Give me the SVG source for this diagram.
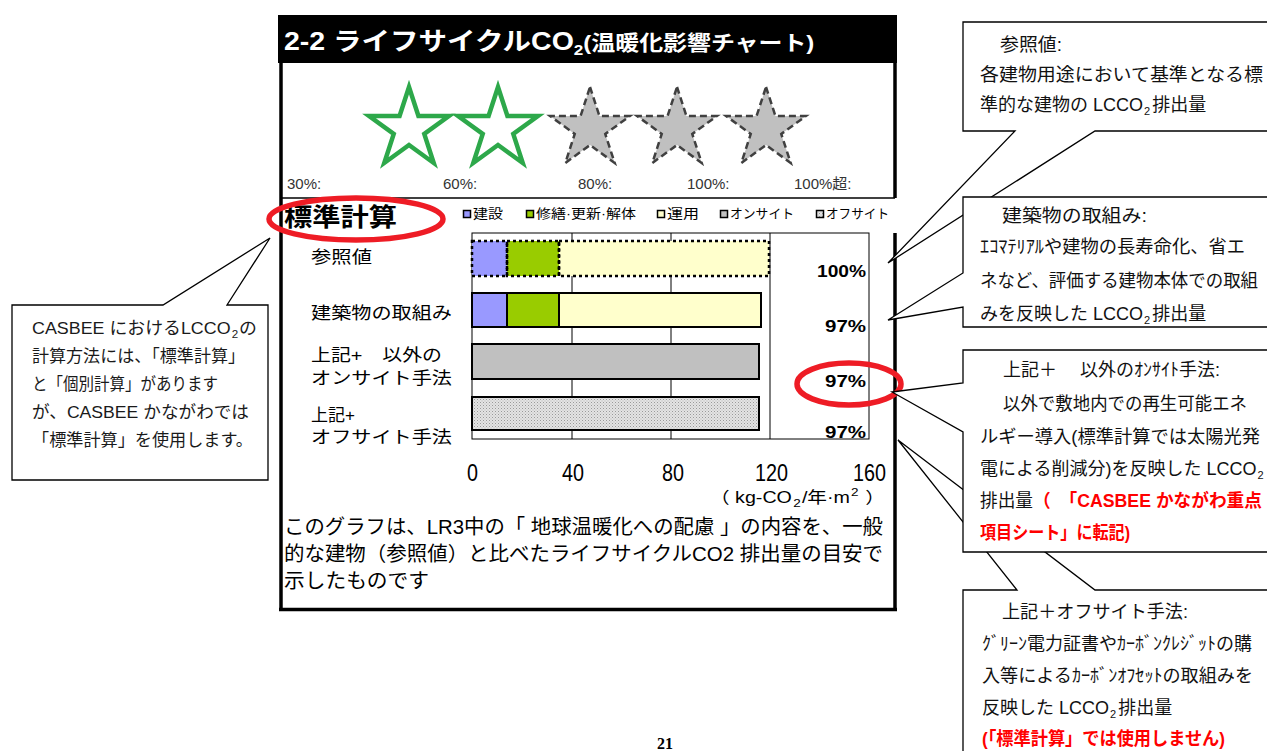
<svg xmlns="http://www.w3.org/2000/svg" width="1267" height="751" viewBox="0 0 1267 751">
<style>
text{font-family:"Liberation Sans","Noto Sans CJK JP",sans-serif;}
.pg{font-family:"Liberation Serif",serif;font-size:16px;font-weight:bold}
.co{font-size:18px;fill:#111}
.lco{font-size:17px;fill:#1a1a1a}
.red{fill:#f00;font-weight:bold}
.callout{fill:#fff;stroke:#000;stroke-width:1.3}
.lbl{font-size:17px;fill:#000}
.pct{font-size:17px;font-weight:bold;fill:#000}
.leg{font-size:13px;fill:#000}
.ax{font-size:24px;fill:#000}
.rate{font-size:15px;fill:#333}
.grid{stroke:#000;stroke-width:1}
.sq{stroke:#000;stroke-width:1.5}
.sg{fill:#fff;stroke:#2da84a;stroke-width:4.5}
.sd{fill:#c0c0c0;stroke:#404040;stroke-width:2.5;stroke-dasharray:7 4}
.ring{fill:none;stroke:#ee1c25;stroke-width:5.5}
.dot{fill:none;stroke:#000;stroke-width:2.5;stroke-dasharray:3 3}
.sol{stroke:#000;stroke-width:2}
.bd{stroke:#000;stroke-width:3.5}
</style>
<defs>
<path id="star" d="M0,-42 L9.43,-12.98 L39.94,-12.98 L15.26,4.96 L24.7,33.98 L0,16.04 L-24.7,33.98 L-15.26,4.96 L-39.94,-12.98 L-9.43,-12.98 Z"/>
<pattern id="dots" width="3" height="3" patternUnits="userSpaceOnUse"><rect width="3" height="3" fill="#e4e4e4"/><rect width="1" height="1" fill="#9a9a9a"/><rect x="1.5" y="1.5" width="1" height="1" fill="#b4b4b4"/></pattern>
</defs>
<rect width="1267" height="751" fill="#fff"/>

<g id="panel">
<rect x="278" y="15" width="619" height="48" fill="#000"/>
<text transform="translate(284,50) scale(1.14,1)" font-size="25" font-weight="bold" fill="#fff">2-2 ライフサイクルCO<tspan font-size="15" dy="5">2</tspan><tspan font-size="21" dy="-5">(温暖化影響チャート)</tspan></text>
<line class="bd" x1="281" y1="63" x2="281" y2="611"/>
<line class="bd" x1="895" y1="63" x2="895" y2="198"/>
<line class="bd" x1="895" y1="233" x2="895" y2="611"/>
<line class="bd" x1="279" y1="609.5" x2="897" y2="609.5"/>
<line x1="281" y1="198" x2="895" y2="198" stroke="#000" stroke-width="1.3"/>
</g>

<g id="rating">
<use href="#star" class="sg" transform="translate(409,129)"/>
<use href="#star" class="sg" transform="translate(498,129)"/>
<use href="#star" class="sd" transform="translate(590,129)"/>
<use href="#star" class="sd" transform="translate(677,129)"/>
<use href="#star" class="sd" transform="translate(766,129)"/>
<text class="rate" x="287" y="189">30%:</text>
<text class="rate" x="443" y="189">60%:</text>
<text class="rate" x="578" y="189">80%:</text>
<text class="rate" x="687" y="189">100%:</text>
<text class="rate" x="794" y="189">100%超:</text>
</g>

<g id="legend">
<text x="284" y="226" font-size="25" font-weight="bold" textLength="113" lengthAdjust="spacingAndGlyphs">標準計算</text>
<rect class="sq" x="463.5" y="210.5" width="7" height="7" fill="#9999ff"/>
<text class="leg" x="473" y="218" textLength="30" lengthAdjust="spacingAndGlyphs">建設</text>
<rect class="sq" x="526.5" y="210.5" width="7" height="7" fill="#99cc00"/>
<text class="leg" x="536" y="218" textLength="100" lengthAdjust="spacingAndGlyphs">修繕·更新·解体</text>
<rect class="sq" x="657.5" y="210.5" width="7" height="7" fill="#ffffcc"/>
<text class="leg" x="667" y="218" textLength="32" lengthAdjust="spacingAndGlyphs">運用</text>
<rect class="sq" x="720.5" y="210.5" width="7" height="7" fill="#c0c0c0"/>
<text class="leg" x="730" y="218" textLength="64" lengthAdjust="spacingAndGlyphs">オンサイト</text>
<rect class="sq" x="816.5" y="210.5" width="7" height="7" fill="url(#dots)"/>
<text class="leg" x="826" y="218" textLength="63" lengthAdjust="spacingAndGlyphs">オフサイト</text>
</g>

<g id="chart">
<rect x="472" y="233" width="397" height="206" fill="#fff" stroke="#000" stroke-width="1"/>
<line class="grid" x1="572" y1="233" x2="572" y2="439"/>
<line class="grid" x1="671" y1="233" x2="671" y2="439"/>
<line class="grid" x1="770" y1="233" x2="770" y2="439"/>
<rect x="472" y="241" width="35" height="35" fill="#9999ff"/>
<rect x="507" y="241" width="52" height="35" fill="#99cc00"/>
<rect x="559" y="241" width="210" height="35" fill="#ffffcc"/>
<rect class="dot" x="472" y="241" width="35" height="35"/>
<rect class="dot" x="507" y="241" width="52" height="35"/>
<rect class="dot" x="559" y="241" width="210" height="35"/>
<rect class="sol" x="472" y="293" width="35" height="34" fill="#9999ff"/>
<rect class="sol" x="507" y="293" width="52" height="34" fill="#99cc00"/>
<rect class="sol" x="559" y="293" width="202" height="34" fill="#ffffcc"/>
<rect class="sol" x="472" y="344" width="287" height="35" fill="#c0c0c0"/>
<rect class="sol" x="472" y="397" width="287" height="33" fill="url(#dots)"/>
<text class="lbl" x="311" y="263" textLength="61" lengthAdjust="spacingAndGlyphs">参照値</text>
<text class="lbl" x="311" y="319" textLength="141" lengthAdjust="spacingAndGlyphs">建築物の取組み</text>
<text class="lbl" x="311" y="361" textLength="131" lengthAdjust="spacingAndGlyphs">上記+　以外の</text>
<text class="lbl" x="311" y="384" textLength="141" lengthAdjust="spacingAndGlyphs">オンサイト手法</text>
<text class="lbl" x="311" y="421">上記+</text>
<text class="lbl" x="311" y="443" textLength="141" lengthAdjust="spacingAndGlyphs">オフサイト手法</text>
<text class="pct" x="817" y="277" textLength="49" lengthAdjust="spacingAndGlyphs">100%</text>
<text class="pct" x="825" y="332" textLength="41" lengthAdjust="spacingAndGlyphs">97%</text>
<text class="pct" x="825" y="387" textLength="41" lengthAdjust="spacingAndGlyphs">97%</text>
<text class="pct" x="825" y="438" textLength="41" lengthAdjust="spacingAndGlyphs">97%</text>
<text class="ax" x="467" y="481" textLength="11" lengthAdjust="spacingAndGlyphs">0</text>
<text class="ax" x="562" y="481" textLength="22" lengthAdjust="spacingAndGlyphs">40</text>
<text class="ax" x="662" y="481" textLength="22" lengthAdjust="spacingAndGlyphs">80</text>
<text class="ax" x="755" y="481" textLength="33" lengthAdjust="spacingAndGlyphs">120</text>
<text class="ax" x="853" y="481" textLength="33" lengthAdjust="spacingAndGlyphs">160</text>
<text x="710" y="503" font-size="16" textLength="175" lengthAdjust="spacingAndGlyphs">（ kg-CO<tspan font-size="11" dy="4" dx="1">2</tspan><tspan dy="-4" dx="1">/年·m</tspan><tspan font-size="11" dy="-7" dx="1">2</tspan><tspan dy="7" dx="1"> ）</tspan></text>
</g>

<g id="description" font-size="20">
<text x="284" y="534" textLength="599" lengthAdjust="spacingAndGlyphs">このグラフは、LR3中の「 地球温暖化への配慮 」の内容を、一般</text>
<text x="284" y="561" textLength="599" lengthAdjust="spacingAndGlyphs">的な建物（参照値）と比べたライフサイクルCO2 排出量の目安で</text>
<text x="284" y="588" textLength="145" lengthAdjust="spacingAndGlyphs">示したものです</text>
</g>

<g id="highlights">
<ellipse class="ring" cx="356" cy="219" rx="87" ry="21"/>
<ellipse class="ring" cx="849" cy="384" rx="52" ry="21"/>
</g>

<g id="callout-left">
<path class="callout" d="M12,305 H163 L270,238 L227,305 H268 V480 H12 Z"/>
<text class="lco" x="32" y="334" textLength="225" lengthAdjust="spacingAndGlyphs">CASBEE におけるLCCO<tspan font-size="11" dy="4" dx="1">2</tspan><tspan dy="-4" dx="1">の</tspan></text>
<text class="lco" x="32" y="362" textLength="213" lengthAdjust="spacingAndGlyphs">計算方法には、「標準計算」</text>
<text class="lco" x="32" y="390" textLength="186" lengthAdjust="spacingAndGlyphs">と「個別計算」があります</text>
<text class="lco" x="32" y="418" textLength="217" lengthAdjust="spacingAndGlyphs">が、CASBEE かながわでは</text>
<text class="lco" x="32" y="446" textLength="221" lengthAdjust="spacingAndGlyphs">「標準計算」を使用します。</text>
</g>

<g id="callout-reference">
<path class="callout" d="M963,22 H1275 V131 H1095 L888,263 L1015,131 H963 Z"/>
<text class="co" x="1000" y="51" textLength="62" lengthAdjust="spacingAndGlyphs">参照値:</text>
<text class="co" x="980" y="81" textLength="283" lengthAdjust="spacingAndGlyphs">各建物用途において基準となる標</text>
<text class="co" x="980" y="111">準的な建物の LCCO<tspan font-size="11" dy="4" dx="1">2</tspan><tspan dy="-4" dx="2">排出量</tspan></text>
</g>

<g id="callout-building">
<path class="callout" d="M963,197 H1275 V327 H963 V307 L888,320 L963,273 Z"/>
<text class="co" x="1002" y="222" textLength="145" lengthAdjust="spacingAndGlyphs">建築物の取組み:</text>
<text class="co" x="980" y="253" textLength="265" lengthAdjust="spacingAndGlyphs">ｴｺﾏﾃﾘｱﾙや建物の長寿命化、省エ</text>
<text class="co" x="980" y="287" textLength="278" lengthAdjust="spacingAndGlyphs">ネなど、評価する建物本体での取組</text>
<text class="co" x="980" y="320">みを反映した LCCO<tspan font-size="11" dy="4" dx="1">2</tspan><tspan dy="-4" dx="2">排出量</tspan></text>
</g>

<g id="callout-offsite">
<path class="callout" d="M963,590 H1017 L898,440 L1095,590 H1275 V770 H963 Z"/>
<text class="co" x="1002" y="618" textLength="186" lengthAdjust="spacingAndGlyphs">上記＋オフサイト手法:</text>
<text class="co" x="982" y="650" textLength="270" lengthAdjust="spacingAndGlyphs">ｸﾞﾘｰﾝ電力証書やｶｰﾎﾞﾝｸﾚｼﾞｯﾄの購</text>
<text class="co" x="982" y="682" textLength="271" lengthAdjust="spacingAndGlyphs">入等によるｶｰﾎﾞﾝｵﾌｾｯﾄの取組みを</text>
<text class="co" x="982" y="714">反映した LCCO<tspan font-size="11" dy="4" dx="1">2</tspan><tspan dy="-4" dx="2">排出量</tspan></text>
<text class="co red" x="982" y="745" textLength="243" lengthAdjust="spacingAndGlyphs">(「標準計算」では使用しません)</text>
</g>

<g id="callout-onsite">
<path class="callout" d="M963,350 H1275 V552 H963 V432 L892,392 L963,383 Z"/>
<text class="co" x="1003" y="376">上記＋<tspan x="1080">以外のｵﾝｻｲﾄ手法:</tspan></text>
<text class="co" x="1003" y="410" textLength="244" lengthAdjust="spacingAndGlyphs">以外で敷地内での再生可能エネ</text>
<text class="co" x="980" y="443" textLength="280" lengthAdjust="spacingAndGlyphs">ルギー導入(標準計算では太陽光発</text>
<text class="co" x="980" y="475">電による削減分)を反映した LCCO<tspan font-size="11" dy="4" dx="1">2</tspan></text>
<text class="co" x="980" y="507" textLength="282" lengthAdjust="spacingAndGlyphs">排出量<tspan class="red">（　「CASBEE かながわ重点</tspan></text>
<text class="co red" x="980" y="539" textLength="150" lengthAdjust="spacingAndGlyphs">項目シート」に転記)</text>
</g>

<text class="pg" x="665" y="749" text-anchor="middle">21</text>
</svg>
